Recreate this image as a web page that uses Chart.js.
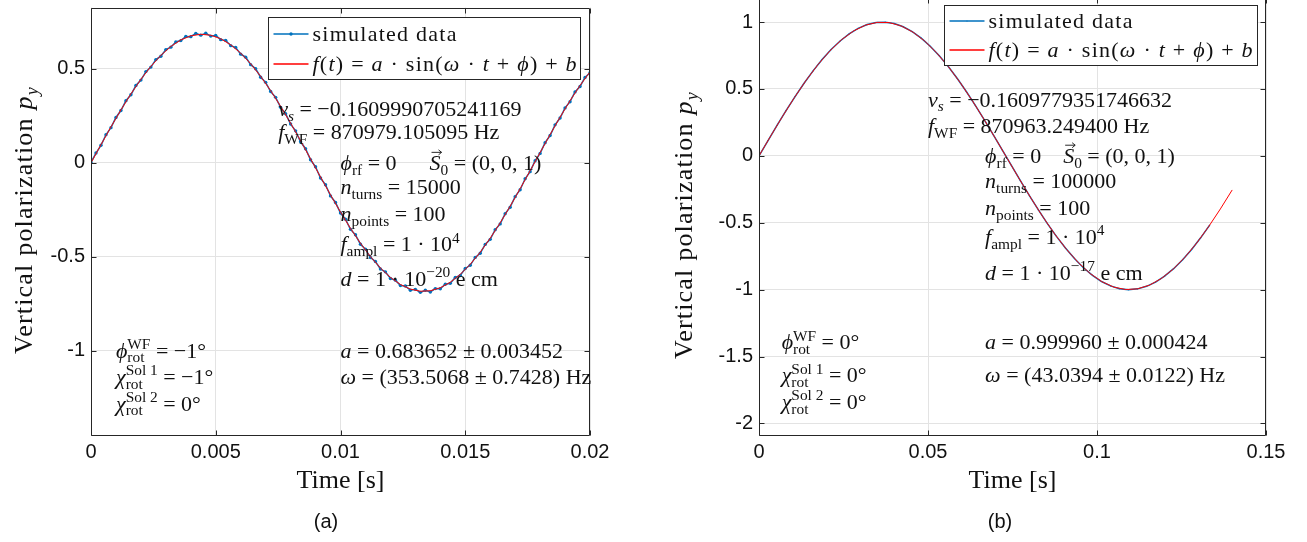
<!DOCTYPE html>
<html>
<head>
<meta charset="utf-8">
<title>Vertical polarization</title>
<script src="https://cdn.jsdelivr.net/npm/chart.js@4.4.1/dist/chart.umd.min.js"></script>
<style>
    html, body { margin: 0; padding: 0; background: #fff; overflow: hidden; }
    body { width: 1307px; height: 542px; position: relative; }
    canvas { position: absolute; }
    #panelA { left: 0; top: 0; }
    #panelB { left: 660px; top: -6px; }
</style>
</head>
<body>
<canvas id="panelA" width="650" height="542"></canvas>
<canvas id="panelB" width="647" height="548"></canvas>
<script>
// (a) 15000 turns, 100 points between 0 and 0.02 s
var stepA = 0.0002;
var simA = [
    0.002, 0.052, 0.093, 0.149, 0.187, 0.241, 0.278, 0.330, 0.362, 0.411,
    0.440, 0.485, 0.509, 0.549, 0.567, 0.602, 0.615, 0.643, 0.650, 0.672,
    0.671, 0.688, 0.679, 0.689, 0.674, 0.677, 0.655, 0.651, 0.623, 0.613,
    0.578, 0.562, 0.522, 0.500, 0.455, 0.428, 0.379, 0.348, 0.295, 0.261,
    0.206, 0.170, 0.112, 0.075, 0.016, -0.021, -0.081, -0.117, -0.176, -0.211,
    -0.267, -0.300, -0.354, -0.383, -0.433, -0.459, -0.504, -0.525, -0.565, -0.580,
    -0.615, -0.624, -0.653, -0.655, -0.678, -0.673, -0.689, -0.678, -0.687, -0.669,
    -0.670, -0.646, -0.641, -0.610, -0.599, -0.562, -0.545, -0.503, -0.481, -0.434,
    -0.407, -0.356, -0.325, -0.271, -0.236, -0.180, -0.143, -0.085, -0.047, 0.011,
    0.050, 0.107, 0.145, 0.202, 0.238, 0.292, 0.325, 0.377, 0.406, 0.454,
    0.479
];
var fitStepA = 0.0004;
var fitA = [
    0, 0.0963, 0.1908, 0.2814, 0.3665, 0.4441, 0.5129, 0.5716, 0.6188, 0.6536,
    0.6753, 0.6836, 0.6784, 0.6597, 0.6278, 0.5833, 0.5269, 0.4599, 0.3840, 0.3005,
    0.2109, 0.1171, 0.0210, -0.0755, -0.1705, -0.2621, -0.3485, -0.4279, -0.4988, -0.5596,
    -0.6094, -0.6470, -0.6717, -0.6830, -0.6806, -0.6646, -0.6354, -0.5934, -0.5398, -0.4754,
    -0.4013, -0.3192, -0.2308, -0.1378, -0.0421, 0.0545, 0.1500, 0.2425, 0.3302, 0.4112,
    0.4840
];

// (b) 100000 turns, up to 0.1333 s
var stepB = 0.13333 / 50;
var simB = [
    0, 0.1145, 0.2275, 0.3376, 0.4432, 0.5429, 0.6355, 0.7196, 0.7945, 0.8586,
    0.9117, 0.9528, 0.9813, 0.9969, 0.9993, 0.9887, 0.9650, 0.9285, 0.8797, 0.8194,
    0.7486, 0.6679, 0.5783, 0.4811, 0.3775, 0.2690, 0.1569, 0.0428, -0.0719, -0.1856,
    -0.2970, -0.4044, -0.5064, -0.6017, -0.6892, -0.7678, -0.8363, -0.8936, -0.9393, -0.9722,
    -0.9926, -1.0000, -0.9941, -0.9753, -0.9436, -0.8991, -0.8434, -0.7765, -0.6993, -0.6127,
    -0.5182
];
var fitStepB = 0.0035;
var fitB = [
    0, 0.1501, 0.2967, 0.4367, 0.5669, 0.6840, 0.7857, 0.8697, 0.9339, 0.9772,
    0.9979, 0.9962, 0.9720, 0.9259, 0.8585, 0.7719, 0.6679, 0.5486, 0.4170, 0.2758,
    0.1284, -0.0218, -0.1716, -0.3175, -0.4563, -0.5846, -0.6997, -0.7988, -0.8800, -0.9413,
    -0.9813, -0.9991, -0.9941, -0.9668, -0.9174, -0.8475, -0.7580, -0.6515, -0.5302, -0.3969,
    -0.2548
];

var seriesLabels = ['simulated data', '*f*(*t*) = *a* · sin(*ω* · *t* + *ϕ*) + *b*'];

// text boxes, markup: *italic*, _{sub}, ^{sup}, @ = vector arrow on next letter
var notesA = [
    '*ν*_{*s*} = −0.1609990705241169',
    '*f*_{WF} = 870979.105095 Hz',
    '*ϕ*_{rf} = 0      *@S*_{0} = (0, 0, 1)',
    '*n*_{turns} = 15000',
    '*n*_{points} = 100',
    '*f*_{ampl} = 1 · 10^{4}',
    '*d* = 1 · 10^{−20} e cm',
    '*ϕ*^{WF}_{rot} = −1°',
    '*χ*^{Sol 1}_{rot} = −1°',
    '*χ*^{Sol 2}_{rot} = 0°',
    '*a* = 0.683652 ± 0.003452',
    '*ω* = (353.5068 ± 0.7428) Hz'
];
var notesB = [
    '*ν*_{*s*} = −0.1609779351746632',
    '*f*_{WF} = 870963.249400 Hz',
    '*ϕ*_{rf} = 0    *@S*_{0} = (0, 0, 1)',
    '*n*_{turns} = 100000',
    '*n*_{points} = 100',
    '*f*_{ampl} = 1 · 10^{4}',
    '*d* = 1 · 10^{−17} e cm',
    '*ϕ*^{WF}_{rot} = 0°',
    '*χ*^{Sol 1}_{rot} = 0°',
    '*χ*^{Sol 2}_{rot} = 0°',
    '*a* = 0.999960 ± 0.000424',
    '*ω* = (43.0394 ± 0.0122) Hz'
];

// where each text line starts (data units: time, p_y)
var notePosA = [
    [0.0075, 0.248], [0.0075, 0.126], [0.01, -0.038], [0.01, -0.168], [0.01, -0.311],
    [0.01, -0.471], [0.01, -0.653], [0.001, -1.036], [0.001, -1.175], [0.001, -1.318],
    [0.01, -1.036], [0.01, -1.175]
];
var notePosB = [
    [0.05, 0.368], [0.05, 0.170], [0.0669, -0.052], [0.0669, -0.242], [0.0669, -0.442],
    [0.0669, -0.657], [0.0669, -0.928], [0.0067, -1.447], [0.0067, -1.694], [0.0067, -1.891],
    [0.0669, -1.447], [0.0669, -1.689]
];

var SERIF = '"Liberation Serif", "DejaVu Serif", serif';
var SANS = '"Liberation Sans", Arial, sans-serif';
var INK = '#262626';
var BLUE = '#0072BD';
var RED = '#FF0000';

function parseRich(src) {
    var runs = [], italic = false, level = 0, vec = false, buf = '';
    function push(v) {
        if (buf) runs.push({ t: buf, it: italic, lv: level, vec: !!v });
        buf = '';
    }
    for (var i = 0; i < src.length; i++) {
        var c = src[i];
        if (c === '*') { push(); italic = !italic; }
        else if ((c === '_' || c === '^') && src[i + 1] === '{') { push(); level = c === '_' ? -1 : 1; i++; }
        else if (c === '}' && level !== 0) { push(); level = 0; }
        else if (c === '@') { push(); vec = true; }
        else {
            buf += c;
            if (vec) { push(true); vec = false; }
        }
    }
    push();
    return runs;
}

// draws one line of math-ish text, returns its width
function drawRich(ctx, src, x, y, size, draw, spacing) {
    var runs = parseRich(src);
    var x0 = x, prev = 0, base = x, end = x;
    ctx.letterSpacing = (spacing || 0) + 'px';
    runs.forEach(function (r) {
        if (r.lv !== 0) {
            if (prev === 0) { base = x; end = x; }
            else if (prev !== r.lv) x = base;
        } else if (prev !== 0) {
            x = end;
        }
        var fs = r.lv ? size * 0.7 : size;
        ctx.font = (r.it ? 'italic ' : '') + fs.toFixed(1) + 'px ' + SERIF;
        var w = ctx.measureText(r.t).width;
        var dy = r.lv < 0 ? size * 0.22 : (r.lv > 0 ? -size * 0.4 : 0);
        if (draw) {
            ctx.fillText(r.t, x, y + dy);
            if (r.vec) {
                var ay = y - size * 0.8, ax0 = x + 2, ax1 = x + w + 1;
                ctx.beginPath();
                ctx.moveTo(ax0, ay); ctx.lineTo(ax1, ay);
                ctx.moveTo(ax1 - 3, ay - 2.5); ctx.lineTo(ax1, ay); ctx.lineTo(ax1 - 3, ay + 2.5);
                ctx.lineWidth = 0.9;
                ctx.strokeStyle = ctx.fillStyle;
                ctx.stroke();
            }
        }
        x += w;
        if (r.lv !== 0) end = Math.max(end, x);
        prev = r.lv;
    });
    if (prev !== 0) x = end;
    ctx.letterSpacing = '0px';
    return x - x0;
}

var panelDeco = {
    id: 'panelDeco',
    afterDatasetsDraw: function (chart, args, opts) {
        var ctx = chart.ctx, area = chart.chartArea;
        var xs = chart.scales.x, ys = chart.scales.y;
        var L = Math.round(area.left) + 0.5, R = Math.round(area.right) - 0.5;
        var T = Math.round(area.top) + 0.5, B = Math.round(area.bottom) - 0.5;
        ctx.save();
        ctx.textAlign = 'left';
        ctx.textBaseline = 'alphabetic';

        // axes box with inward ticks on all sides
        ctx.strokeStyle = INK;
        ctx.lineWidth = 1;
        ctx.beginPath();
        ctx.rect(L, T, R - L, B - T);
        xs.ticks.forEach(function (t) {
            var px = Math.round(xs.getPixelForValue(t.value)) + 0.5;
            ctx.moveTo(px, B); ctx.lineTo(px, B - 5);
            ctx.moveTo(px, T); ctx.lineTo(px, T + 5);
        });
        ys.ticks.forEach(function (t) {
            var py = Math.round(ys.getPixelForValue(t.value)) + 0.5;
            ctx.moveTo(L, py); ctx.lineTo(L + 5, py);
            ctx.moveTo(R, py); ctx.lineTo(R - 5, py);
        });
        ctx.stroke();

        // parameter text
        ctx.fillStyle = '#111';
        opts.notes.forEach(function (line, i) {
            var p = opts.notePos[i];
            drawRich(ctx, line, xs.getPixelForValue(p[0]), ys.getPixelForValue(p[1]), 22, true);
        });

        // legend in the upper right corner
        var lg = opts.legend;
        var bx = Math.round(area.right - lg.right - lg.width) + 0.5;
        var by = Math.round(area.top + lg.top) + 0.5;
        ctx.fillStyle = '#fff';
        ctx.fillRect(bx, by, lg.width, lg.height);
        ctx.strokeStyle = INK;
        ctx.lineWidth = 1;
        ctx.strokeRect(bx, by, lg.width, lg.height);
        chart.data.datasets.forEach(function (ds, i) {
            var ry = Math.round(by + lg.rows[i]);
            var col = chart.getDatasetMeta(i).dataset.options.borderColor;
            ctx.fillStyle = col;
            ctx.fillRect(bx + 5, ry - 0.75, 35, 1.5);
            if (ds.pointRadius > 0) {
                ctx.beginPath();
                ctx.arc(bx + 22.5, ry, ds.pointRadius, 0, Math.PI * 2);
                ctx.fill();
            }
            ctx.fillStyle = '#111';
            drawRich(ctx, ds.label, bx + 44, ry + 7, 22, true, 1.25);
        });

        // axis titles
        ctx.fillStyle = '#111';
        var xt = 'Time [s]';
        var w = drawRich(ctx, xt, 0, 0, 26, false);
        drawRich(ctx, xt, (area.left + area.right) / 2 - w / 2, opts.xTitleY, 26, true);

        var yt = 'Vertical polarization *p*_{*y*}';
        w = drawRich(ctx, yt, 0, 0, 26, false, 1.2);
        ctx.save();
        ctx.translate(opts.yTitleX, opts.yTitleY);
        ctx.rotate(-Math.PI / 2);
        drawRich(ctx, yt, -w / 2, 0, 26, true, 1.2);
        ctx.restore();

        // panel tag
        ctx.font = '20px ' + SANS;
        ctx.textAlign = 'center';
        ctx.fillText(opts.tag, opts.tagX, opts.tagY);
        ctx.restore();
    }
};

function points(step, values) {
    return values.map(function (v, i) {
        return { x: i * step, y: v };
    });
}

function fmt(v) {
    return String(Math.round(v * 10000) / 10000);
}

function createPanel(id, frame, xr, yr, sim, fit, dot, deco) {
    var canvas = document.getElementById(id);
    var W = canvas.width, H = canvas.height;
    var tickFont = { family: SANS, size: 20 };

    new Chart(canvas, {
        type: 'line',
        data: {
            datasets: [{
                label: seriesLabels[0],
                data: sim,
                borderColor: BLUE,
                backgroundColor: BLUE,
                borderWidth: 1.5,
                pointRadius: dot,
                pointBorderWidth: 0,
                pointBackgroundColor: BLUE,
                tension: 0,
                order: 1
            }, {
                label: seriesLabels[1],
                data: fit,
                borderColor: RED,
                backgroundColor: RED,
                borderWidth: 1,
                pointRadius: 0,
                tension: 0,
                order: 0
            }]
        },
        options: {
            responsive: false,
            animation: false,
            devicePixelRatio: 1,
            events: [],
            layout: { padding: { left: 0, top: frame.top, right: W - frame.right, bottom: 0 } },
            scales: {
                x: {
                    type: 'linear',
                    min: xr[0], max: xr[1],
                    grid: { color: '#e3e3e3', drawTicks: false },
                    border: { display: false },
                    ticks: { stepSize: xr[2], callback: fmt, font: tickFont, color: '#111', padding: 4, maxRotation: 0 },
                    afterFit: function (s) {
                        s.height = H - frame.bottom;
                        s.paddingLeft = s.paddingRight = s.paddingTop = s.paddingBottom = 0;
                    }
                },
                y: {
                    min: yr[0], max: yr[1],
                    grid: { color: '#e3e3e3', drawTicks: false },
                    border: { display: false },
                    ticks: { stepSize: yr[2], includeBounds: false, callback: fmt, font: tickFont, color: '#111', padding: 6 },
                    afterFit: function (s) {
                        s.width = frame.left;
                        s.paddingLeft = s.paddingRight = s.paddingTop = s.paddingBottom = 0;
                    }
                }
            },
            plugins: {
                legend: { display: false },
                tooltip: { enabled: false },
                panelDeco: deco
            }
        },
        plugins: [panelDeco]
    });
}

document.addEventListener('DOMContentLoaded', function () {
    createPanel('panelA',
        { left: 91, top: 7.5, right: 590, bottom: 436 },
        [0, 0.02, 0.005], [-1.453, 0.826, 0.5],
        points(stepA, simA), points(fitStepA, fitA), 1.7,
        {
            notes: notesA, notePos: notePosA,
            legend: { right: 10, top: 9.5, width: 312, height: 62, rows: [16, 46] },
            xTitleY: 488, yTitleX: 32, yTitleY: 220,
            tag: '(a)', tagX: 326, tagY: 528
        });

    createPanel('panelB',
        { left: 99, top: 0, right: 606, bottom: 442 },
        [0, 0.15, 0.05], [-2.094, 1.18, 0.5],
        points(stepB, simB), points(fitStepB, fitB), 0.6,
        {
            notes: notesB, notePos: notePosB,
            legend: { right: 9, top: 7, width: 313, height: 60, rows: [15, 44] },
            xTitleY: 494, yTitleX: 32, yTitleY: 231,
            tag: '(b)', tagX: 340, tagY: 534
        });
});
</script>
</body>
</html>
